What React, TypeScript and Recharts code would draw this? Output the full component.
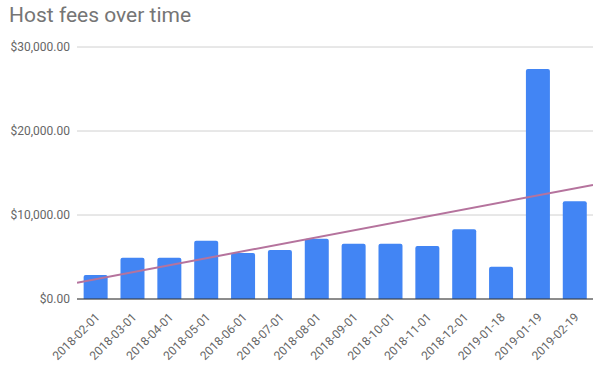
import {
	Bar,
	CartesianGrid,
	ComposedChart,
	Line,
	XAxis,
	YAxis,
} from 'recharts'

const dates = [
	'2018-02-01',
	'2018-03-01',
	'2018-04-01',
	'2018-05-01',
	'2018-06-01',
	'2018-07-01',
	'2018-08-01',
	'2018-09-01',
	'2018-10-01',
	'2018-11-01',
	'2018-12-01',
	'2019-01-18',
	'2019-01-19',
	'2019-02-19',
]

const hostFees = [
	2860, 4920, 4920, 6940, 5480, 5830, 7180, 6590, 6590, 6310, 8300, 3850,
	27380, 11630,
]

const yTicks = [0, 10000, 20000, 30000]

// trendline read at the left and right edges of the plot
const trendEdges = [
	{ x: 0, y: 1940 },
	{ x: 14, y: 13570 },
]

const data = dates.map((date, i) => ({ date, fees: hostFees[i] }))

const formatMoney = (v: number) =>
	'$' +
	v.toLocaleString('en-US', { minimumFractionDigits: 2, maximumFractionDigits: 2 })

const font = 'Roboto, "Noto Sans", Arial, sans-serif'

const DateTick = ({ x, y, payload }: any) => (
	<text
		x={x + 5}
		y={y + 11}
		transform={`rotate(-45, ${x + 5}, ${y + 11})`}
		textAnchor="end"
		fontSize={12}
		fontFamily={font}
		fill="#666"
	>
		{payload.value}
	</text>
)

export default function App() {
	return (
		<div style={{ position: 'relative', width: 600, height: 370, background: '#fff' }}>
			<style>{'body{margin:0}'}</style>
			<div
				style={{
					position: 'absolute',
					left: 9,
					top: 3,
					fontFamily: font,
					fontSize: 21,
					color: '#757575',
					zIndex: 1,
				}}
			>
				Host fees over time
			</div>
			<ComposedChart
				width={600}
				height={370}
				data={data}
				margin={{ top: 47, right: 7, bottom: 0, left: 0 }}
				barCategoryGap="18%"
			>
				<CartesianGrid vertical={false} stroke="#d0d0d0" />
				<XAxis
					dataKey="date"
					height={71}
					interval={0}
					tickLine={false}
					axisLine={{ stroke: '#333' }}
					tick={<DateTick />}
				/>
				<XAxis
					xAxisId="trend"
					type="number"
					dataKey="x"
					domain={[0, 14]}
					allowDataOverflow
					hide
				/>
				<YAxis
					width={77}
					domain={[0, 30000]}
					ticks={yTicks}
					tickFormatter={formatMoney}
					tickLine={false}
					tickSize={0}
					tickMargin={7}
					axisLine={false}
					tick={{ fontSize: 12, fontFamily: font, fill: '#666' }}
				/>
				<Bar
					dataKey="fees"
					fill="#4285f4"
					radius={[2, 2, 0, 0]}
					isAnimationActive={false}
				/>
				<Line
					xAxisId="trend"
					data={trendEdges}
					dataKey="y"
					stroke="#b5739d"
					strokeWidth={2}
					dot={false}
					activeDot={false}
					isAnimationActive={false}
				/>
			</ComposedChart>
		</div>
	)
}
